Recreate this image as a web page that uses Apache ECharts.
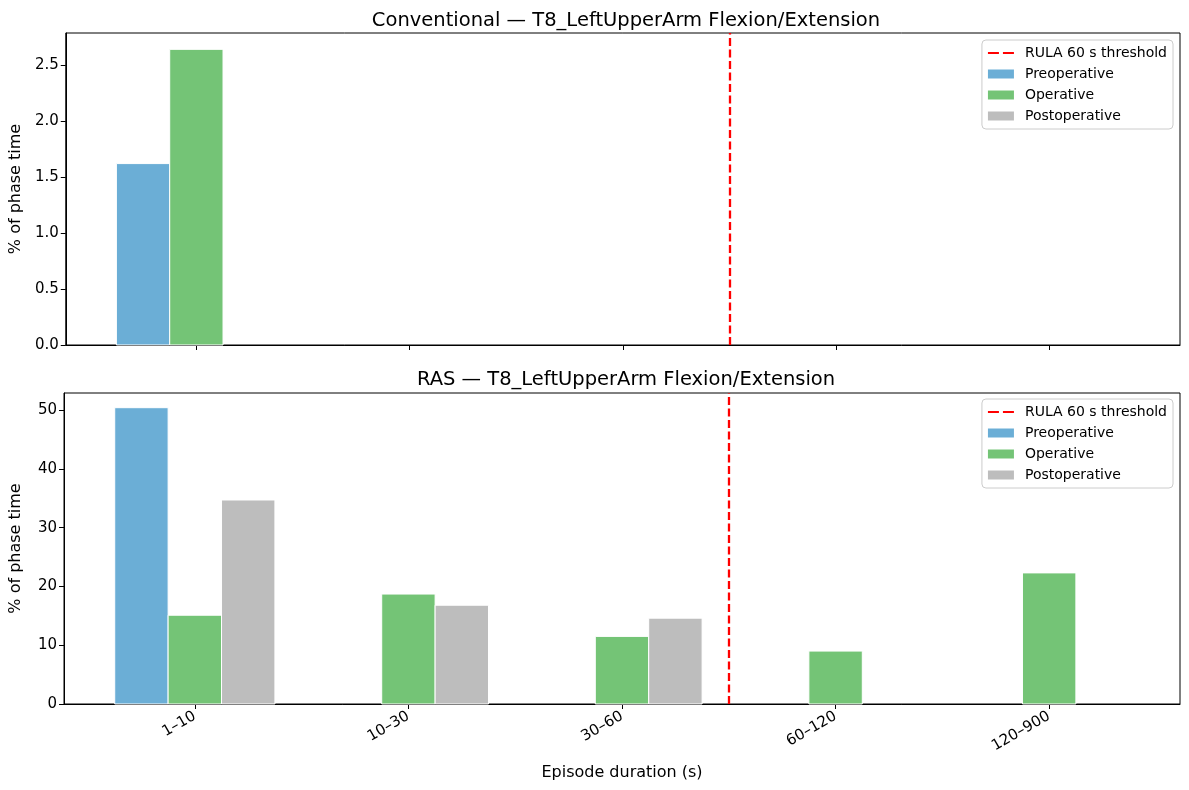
<!DOCTYPE html>
<html>
<head>
<meta charset="utf-8">
<script src="https://cdn.jsdelivr.net/npm/echarts@6/dist/echarts.min.js"></script>
<style>
  html, body { margin: 0; padding: 0; background: #fff; }
  #main { width: 1189px; height: 790px; }
</style>
</head>
<body>
<div id="main"></div>
<script>
// categories (episode duration bins)
const categories = ['1–10', '10–30', '30–60', '60–120', '120–900'];
const phases = ['Preoperative', 'Operative', 'Postoperative'];

// Conventional — % of phase time
const convPre = [1.62, 0, 0, 0, 0];
const convOp = [2.64, 0, 0, 0, 0];
const convPost = [0, 0, 0, 0, 0];

// RAS — % of phase time
const rasPre = [50.4, 0, 0, 0, 0];
const rasOp = [15.1, 18.7, 11.5, 9.0, 22.3];
const rasPost = [34.7, 16.8, 14.6, 0, 0];

// threshold sits between 30–60 and 60–120
const thresholdPos = 2.5;

const convTicks = [0, 0.5, 1.0, 1.5, 2.0, 2.5];
const rasTicks = [0, 10, 20, 30, 40, 50];
const catTicks = [0, 1, 2, 3, 4];

const colors = ['#6baed6', '#74c476', '#bdbdbd'];
const BAR_W = 0.25;

var chart = echarts.init(document.getElementById('main'));

function barItem(offset) {
  return function (params, api) {
    var x = api.value(0), y = api.value(1);
    if (!y) return null;
    var p0 = api.coord([x + offset - BAR_W / 2, y]);
    var p1 = api.coord([x + offset + BAR_W / 2, 0]);
    return {
      type: 'rect',
      shape: { x: p0[0], y: p0[1], width: p1[0] - p0[0], height: p1[1] - p0[1] },
      style: api.style({ stroke: '#ffffff', lineWidth: 1 })
    };
  };
}

function toPairs(arr) {
  return arr.map(function (v, i) { return [i, v]; });
}

function phaseSeries(vals, idx) {
  return vals.map(function (arr, k) {
    return {
      name: phases[k],
      type: 'custom',
      xAxisIndex: idx,
      yAxisIndex: idx,
      itemStyle: { color: colors[k] },
      renderItem: barItem((k - 1) * BAR_W),
      data: toPairs(arr)
    };
  });
}

function thresholdSeries(idx) {
  return {
    name: 'RULA 60 s threshold',
    type: 'line',
    xAxisIndex: idx,
    yAxisIndex: idx,
    symbol: 'none',
    data: [],
    itemStyle: { color: '#ff0000' },
    lineStyle: { color: '#ff0000', width: 2, type: [8, 4] },
    markLine: {
      silent: true,
      symbol: 'none',
      label: { show: false },
      lineStyle: { color: '#ff0000', width: 2.3, type: [8, 3.5] },
      data: [{ xAxis: thresholdPos }]
    }
  };
}

function xAxisOf(idx, showLabels) {
  return {
    type: 'value',
    gridIndex: idx,
    min: -0.6125,
    max: 4.6125,
    splitLine: { show: false },
    axisLine: { show: true, onZero: false, lineStyle: { color: '#000', width: 1 } },
    axisTick: { show: true, length: 5, customValues: catTicks, lineStyle: { color: '#000' } },
    axisLabel: {
      show: showLabels,
      customValues: catTicks,
      rotate: 30,
      fontSize: 15,
      color: '#000',
      margin: 11,
      fontFamily: 'DejaVu Sans',
      formatter: function (v) { return categories[Math.round(v)]; }
    },
    name: showLabels ? 'Episode duration (s)' : '',
    nameLocation: 'middle',
    nameGap: 61,
    nameTextStyle: { fontSize: 16, color: '#000', fontFamily: 'DejaVu Sans' }
  };
}

function yAxisOf(idx, max, ticks, digits) {
  return {
    type: 'value',
    gridIndex: idx,
    min: 0,
    max: max,
    splitLine: { show: false },
    axisLine: { show: true, onZero: false, lineStyle: { color: '#000', width: 1 } },
    axisTick: { show: true, length: 5, customValues: ticks, lineStyle: { color: '#000' } },
    axisLabel: {
      customValues: ticks,
      fontSize: 15,
      color: '#000',
      margin: 7,
      fontFamily: 'DejaVu Sans',
      formatter: function (v) { return v.toFixed(digits); }
    },
    name: '% of phase time',
    nameLocation: 'middle',
    nameGap: 40,
    nameTextStyle: { fontSize: 16, color: '#000', fontFamily: 'DejaVu Sans' }
  };
}

var dashIcon = 'path://M0,0h0.01v0.01h-0.01z M0,3.4h11v2.2h-11z M15,3.4h11v2.2h-11z M25.99,8.99h0.01v0.01h-0.01z';

function legendOf(top) {
  return {
    orient: 'vertical',
    right: 16,
    top: top,
    backgroundColor: '#fff',
    borderColor: '#cccccc',
    borderWidth: 1,
    borderRadius: 4,
    padding: [6, 6, 6, 6],
    itemGap: 7,
    itemWidth: 26,
    itemHeight: 9,
    textStyle: { fontSize: 14, color: '#000', fontFamily: 'DejaVu Sans', padding: [0, 0, 0, 6] },
    data: [
      { name: 'RULA 60 s threshold', icon: dashIcon },
      { name: 'Preoperative', icon: 'rect' },
      { name: 'Operative', icon: 'rect' },
      { name: 'Postoperative', icon: 'rect' }
    ]
  };
}

var titleStyle = { fontSize: 19.5, fontWeight: 'normal', color: '#000', fontFamily: 'DejaVu Sans' };

chart.setOption({
  animation: false,
  title: [
    { text: 'Conventional — T8_LeftUpperArm Flexion/Extension', left: 621, top: 6, textAlign: 'center', textStyle: titleStyle },
    { text: 'RAS — T8_LeftUpperArm Flexion/Extension', left: 621, top: 365, textAlign: 'center', textStyle: titleStyle }
  ],
  legend: [legendOf(40), legendOf(399)],
  grid: [
    { left: 63, right: 9, top: 33, height: 312, show: true, borderColor: '#000', borderWidth: 1, containLabel: false },
    { left: 63, right: 9, top: 393, height: 311, show: true, borderColor: '#000', borderWidth: 1, containLabel: false }
  ],
  xAxis: [xAxisOf(0, false), xAxisOf(1, true)],
  yAxis: [yAxisOf(0, 2.786, convTicks, 1), yAxisOf(1, 52.9, rasTicks, 0)],
  series: [thresholdSeries(0)]
    .concat(phaseSeries([convPre, convOp, convPost], 0))
    .concat([thresholdSeries(1)])
    .concat(phaseSeries([rasPre, rasOp, rasPost], 1))
});
</script>
</body>
</html>
